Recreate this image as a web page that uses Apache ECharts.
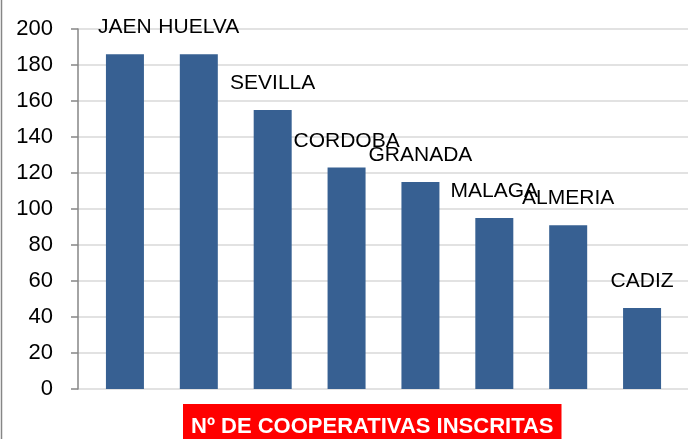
<!DOCTYPE html>
<html>
<head>
<meta charset="utf-8">
<script src="https://cdn.jsdelivr.net/npm/echarts@6/dist/echarts.min.js"></script>
<style>
  html, body { margin: 0; padding: 0; background: #fff; }
  #main { width: 699px; height: 439px; }
</style>
</head>
<body>
<div id="main"></div>
<script>
// provincias y nº de cooperativas
var provincias = ['JAEN', 'HUELVA', 'SEVILLA', 'CORDOBA', 'GRANADA', 'MALAGA', 'ALMERIA', 'CADIZ'];
var cooperativas = [186, 186, 155, 123, 115, 95, 91, 45];
var titulo = 'Nº DE COOPERATIVAS INSCRITAS';

var myChart = echarts.init(document.getElementById('main'));
var font = 'Liberation Sans';

option = {
    animation: false,
    title: {
        text: titulo,
        left: 183,
        top: 404,
        backgroundColor: '#ff0000',
        padding: [12, 8, 10, 8],
        textStyle: {
            color: '#fff',
            fontFamily: font,
            fontWeight: 'bold',
            fontSize: 22
        }
    },
    grid: [
        { left: 78, right: 11, top: 29, bottom: 50 },
        { left: 88, right: 20, top: 29, bottom: 50 }
    ],
    xAxis: [
        {
            type: 'category', gridIndex: 0, data: provincias,
            axisLine: { show: false }, axisTick: { show: false }, axisLabel: { show: false }
        },
        {
            type: 'category', gridIndex: 1, data: provincias,
            axisLine: { show: false }, axisTick: { show: false }, axisLabel: { show: false }
        }
    ],
    yAxis: [
        {
            type: 'value', gridIndex: 0, min: 0, max: 200, interval: 20,
            axisLine: { show: true, lineStyle: { color: '#868686', width: 1.5 } },
            axisTick: { show: true, inside: false, length: 7, lineStyle: { color: '#868686', width: 1.5 } },
            axisLabel: { color: '#000', fontFamily: font, fontSize: 22, margin: 25 },
            splitLine: { lineStyle: { color: '#d9d9d9', width: 1.5 } }
        },
        {
            type: 'value', gridIndex: 1, min: 0, max: 200, interval: 20, show: false,
            splitLine: { show: false }
        }
    ],
    graphic: [
        {
            type: 'line',
            shape: { x1: 1.5, y1: 0, x2: 1.5, y2: 439 },
            style: { stroke: '#868686', lineWidth: 1.5 }
        }
    ],
    series: [
        {
            type: 'bar',
            xAxisIndex: 1,
            yAxisIndex: 1,
            data: cooperativas,
            barWidth: 38,
            itemStyle: { color: '#376092' },
            label: {
                show: true,
                position: 'top',
                distance: 16,
                formatter: function (p) { return p.name; },
                color: '#000',
                fontFamily: font,
                fontSize: 21
            }
        }
    ]
};

myChart.setOption(option);
</script>
</body>
</html>
